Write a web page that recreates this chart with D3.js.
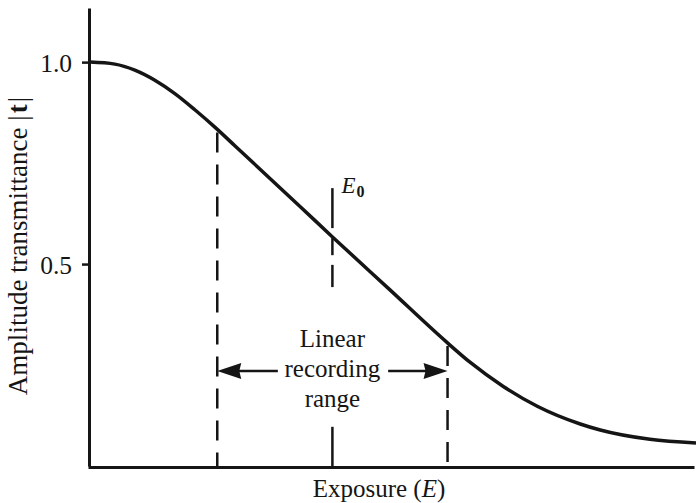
<!DOCTYPE html>
<html lang="en">
<head>
  <meta charset="utf-8">
  <title>Amplitude transmittance vs exposure</title>
  <script src="https://d3js.org/d3.v7.min.js"></script>
  <style>
    body { margin: 0; background: #fff; }
    svg text { font-family: "Liberation Serif", "DejaVu Serif", serif; fill: #151515; }
    .axis .domain { stroke: #151515; stroke-width: 3; }
    .axis line { stroke: #151515; stroke-width: 2.5; }
    .axis text { font-size: 25.5px; }
  </style>
</head>
<body>
  <svg id="chart" width="696" height="503"></svg>
  <script>
    // curve: exposure (arbitrary units) vs |t|
    const exposure = [0, 0.41, 0.74, 1.07, 1.40, 1.73, 2.06, 2.39, 3.47, 4.01, 4.95, 5.89, 6.27, 6.82, 7.38, 8.09, 8.42, 9.24, 10]
    const transmittance = [1.0, 0.995, 0.980, 0.955, 0.922, 0.882, 0.839, 0.793, 0.642, 0.566, 0.436, 0.306, 0.257, 0.197, 0.148, 0.104, 0.089, 0.066, 0.057]

    const yTicks = [0.5, 1.0]
    const rangeBounds = [2.1, 5.9]      // linear recording range
    const e0 = 4.0
    const e0Segments = [[0.688, 0.589], [0.564, 0.522], [0.498, 0.443], [0.097, 0]]
    const arrowLevel = 0.235
    const arrowShafts = [[2.3, 3.1], [4.92, 5.7]]
    const rangeLabel = ["Linear", "recording", "range"]

    const svg = d3.select("#chart")

    const x = d3.scaleLinear().domain([0, 10]).range([90, 696])
    const y = d3.scaleLinear().domain([0, 1.134]).range([466, 8])

    // axes
    svg.append("g")
      .attr("class", "axis")
      .attr("transform", `translate(${x(0) - 1},0)`)
      .call(d3.axisLeft(y).tickValues(yTicks).tickSize(7).tickSizeOuter(0).tickPadding(10)
        .tickFormat(d3.format(".1f")))
      .call(g => g.selectAll("text").attr("dy", "0.36em"))

    svg.append("g")
      .attr("class", "axis")
      .attr("transform", `translate(-2,${y(0) + 1})`)
      .call(d3.axisBottom(x).tickValues([]).tickSizeOuter(0))

    // dashed bounds of the linear range
    const curveAt = e => {
      const i = d3.bisectLeft(exposure, e)
      const t = (e - exposure[i - 1]) / (exposure[i] - exposure[i - 1])
      return transmittance[i - 1] + t * (transmittance[i] - transmittance[i - 1])
    }

    svg.selectAll(".bound").data(rangeBounds)
      .join("line")
      .attr("class", "bound")
      .attr("x1", d => x(d)).attr("x2", d => x(d))
      .attr("y1", d => y(curveAt(d)) + 3)
      .attr("y2", y(0))
      .attr("stroke", "#151515")
      .attr("stroke-width", 2.5)
      .attr("stroke-dasharray", "20,12")

    // E0 marker
    svg.selectAll(".e0").data(e0Segments)
      .join("line")
      .attr("class", "e0")
      .attr("x1", x(e0)).attr("x2", x(e0))
      .attr("y1", d => y(d[0]))
      .attr("y2", d => y(d[1]))
      .attr("stroke", "#151515")
      .attr("stroke-width", 2.5)

    const e0Label = svg.append("text")
      .attr("x", x(e0) + 9)
      .attr("y", y(0.677))
      .style("font-size", "23px")
      .style("font-style", "italic")
      .text("E")
    e0Label.append("tspan")
      .attr("dy", 4)
      .attr("dx", 1)
      .style("font-size", "16px")
      .style("font-style", "normal")
      .style("font-weight", "bold")
      .text("0")

    // curve
    const line = d3.line()
      .x((d, i) => x(exposure[i]))
      .y(d => y(d))
      .curve(d3.curveMonotoneX)

    svg.append("path")
      .datum(transmittance)
      .attr("d", line)
      .attr("fill", "none")
      .attr("stroke", "#151515")
      .attr("stroke-width", 3.5)

    // arrows
    svg.selectAll(".shaft").data(arrowShafts)
      .join("line")
      .attr("class", "shaft")
      .attr("x1", d => x(d[0])).attr("x2", d => x(d[1]))
      .attr("y1", y(arrowLevel)).attr("y2", y(arrowLevel))
      .attr("stroke", "#151515")
      .attr("stroke-width", 2.5)

    const headLen = 24, headHalf = 8
    svg.selectAll(".head").data(rangeBounds)
      .join("path")
      .attr("class", "head")
      .attr("d", (d, i) => {
        const tip = x(d), dir = i === 0 ? 1 : -1, yy = y(arrowLevel)
        return `M${tip},${yy}L${tip + dir * headLen},${yy - headHalf}L${tip + dir * (headLen - 2)},${yy}L${tip + dir * headLen},${yy + headHalf}Z`
      })
      .attr("fill", "#151515")

    svg.selectAll(".rlabel").data(rangeLabel)
      .join("text")
      .attr("class", "rlabel")
      .attr("x", x(e0))
      .attr("y", (d, i) => 347 + i * 30)
      .attr("text-anchor", "middle")
      .style("font-size", "25px")
      .text(d => d)

    // axis titles
    const xt = svg.append("text")
      .attr("x", 379)
      .attr("y", 497)
      .attr("text-anchor", "middle")
      .style("font-size", "25px")
      .text("Exposure (")
    xt.append("tspan").style("font-style", "italic").text("E")
    xt.append("tspan").text(")")

    const yt = svg.append("text")
      .attr("transform", "translate(27,246) rotate(-90)")
      .attr("text-anchor", "middle")
      .style("font-size", "27px")
      .text("Amplitude transmittance |")
    yt.append("tspan").attr("dx", 2).style("font-weight", "bold").text("t")
    yt.append("tspan").attr("dx", 2).text("|")
  </script>
</body>
</html>
